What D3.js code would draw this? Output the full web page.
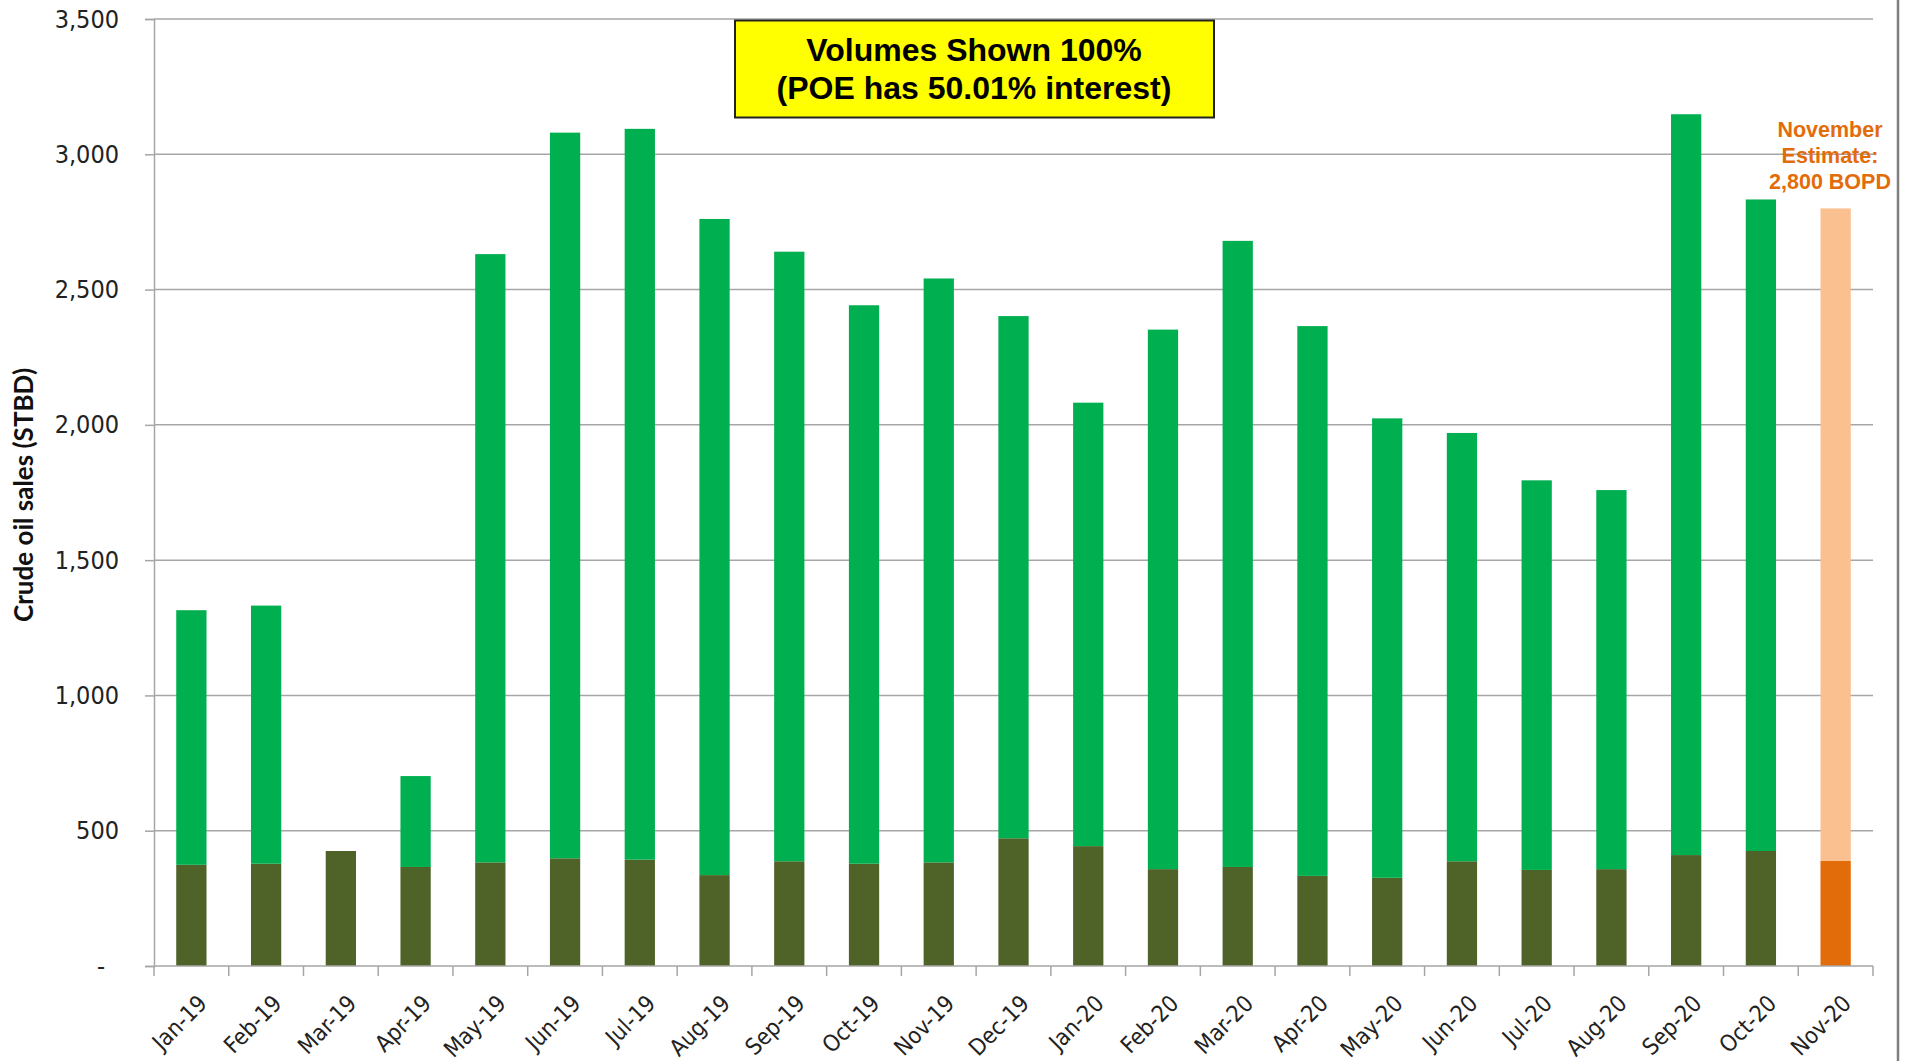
<!DOCTYPE html>
<html>
<head>
	<meta charset="utf-8">
	<script src="https://d3js.org/d3.v7.min.js"></script>
	<style>
		body { margin: 0; background: #fff; }
	</style>
</head>
<body>
	<script type="text/javascript">

		// monthly crude oil sales, STBD (100% volumes)
		var months = ["Jan-19","Feb-19","Mar-19","Apr-19","May-19","Jun-19","Jul-19","Aug-19","Sep-19","Oct-19","Nov-19","Dec-19",
			"Jan-20","Feb-20","Mar-20","Apr-20","May-20","Jun-20","Jul-20","Aug-20","Sep-20","Oct-20","Nov-20"];
		var lowerSales = [374, 378, 425, 366, 383, 398, 393, 336, 387, 378, 383, 472,
			443, 358, 366, 333, 326, 387, 355, 358, 410, 425, 388];
		var upperSales = [941, 954, 0, 336, 2248, 2682, 2701, 2425, 2253, 2064, 2158, 1930,
			1639, 1994, 2314, 2032, 1698, 1583, 1440, 1401, 2738, 2408, 2412];
		var yTicks = [0, 500, 1000, 1500, 2000, 2500, 3000, 3500];
		var estimateMonth = "Nov-20";

		var w = 1907;
		var h = 1061;
		var plotLeft = 154, plotRight = 1873, plotTop = 19, plotBottom = 966;
		var tickFont = "'DejaVu Sans Condensed', 'DejaVu Sans'";

		var svg = d3.select("body")
				.append("svg")
				.attr("width", w)
				.attr("height", h);

		var xScale = d3.scaleBand()
				.domain(months)
				.range([plotLeft, plotRight])
				.padding(0);

		var yScale = d3.scaleLinear()
				.domain([0, 3500])
				.range([plotBottom, plotTop]);

		var barW = xScale.bandwidth() * 0.405;

		// gridlines
		svg.append("g")
			.selectAll("line")
			.data(yTicks.slice(1))
			.enter()
			.append("line")
			.attr("x1", plotLeft)
			.attr("x2", plotRight)
			.attr("y1", function(d){ return yScale(d); })
			.attr("y2", function(d){ return yScale(d); })
			.attr("stroke", "#a6a6a6")
			.attr("stroke-width", 1.5);

		// y axis
		var yAxis = d3.axisLeft(yScale)
				.tickValues(yTicks)
				.tickSize(9)
				.tickPadding(26)
				.tickFormat(function(d){ return d === 0 ? "-" : d3.format(",")(d); });

		var gy = svg.append("g")
			.attr("transform", "translate(" + plotLeft + ",0)")
			.call(yAxis);
		gy.select(".domain").attr("stroke", "#a6a6a6").attr("stroke-width", 1.5);
		gy.selectAll(".tick line").attr("stroke", "#a6a6a6").attr("stroke-width", 1.5);
		gy.selectAll(".tick text")
			.attr("font-family", tickFont)
			.attr("font-size", 25)
			.attr("fill", "#222")
			.attr("dx", function(d){ return d === 0 ? -14 : 0; });

		// bars
		function lowColor(m){ return m === estimateMonth ? "#e36c0a" : "#4f6228"; }
		function upColor(m){ return m === estimateMonth ? "#fac090" : "#00b050"; }

		svg.append("g")
			.selectAll("rect")
			.data(months)
			.enter()
			.append("rect")
			.attr("x", function(d){ return xScale(d) + (xScale.bandwidth() - barW) / 2; })
			.attr("y", function(d, i){ return yScale(lowerSales[i]); })
			.attr("width", barW)
			.attr("height", function(d, i){ return plotBottom - yScale(lowerSales[i]); })
			.attr("fill", lowColor);

		svg.append("g")
			.selectAll("rect")
			.data(months)
			.enter()
			.append("rect")
			.attr("x", function(d){ return xScale(d) + (xScale.bandwidth() - barW) / 2; })
			.attr("y", function(d, i){ return yScale(lowerSales[i] + upperSales[i]); })
			.attr("width", barW)
			.attr("height", function(d, i){ return yScale(lowerSales[i]) - yScale(lowerSales[i] + upperSales[i]); })
			.attr("fill", upColor);

		// x axis
		var gx = svg.append("g")
			.attr("transform", "translate(0," + plotBottom + ")");
		gx.append("line")
			.attr("x1", plotLeft).attr("x2", plotRight)
			.attr("stroke", "#a6a6a6").attr("stroke-width", 1.5);
		gx.selectAll(".tk")
			.data(months.concat(["end"]))
			.enter()
			.append("line")
			.attr("x1", function(d, i){ return plotLeft + i * xScale.bandwidth(); })
			.attr("x2", function(d, i){ return plotLeft + i * xScale.bandwidth(); })
			.attr("y1", 0).attr("y2", 10)
			.attr("stroke", "#a6a6a6").attr("stroke-width", 1.5);
		gx.selectAll("text")
			.data(months)
			.enter()
			.append("text")
			.attr("transform", function(d){
				return "translate(" + (xScale(d) + xScale.bandwidth() / 2 + 17) + ",39) rotate(-45)";
			})
			.attr("text-anchor", "end")
			.attr("font-family", tickFont)
			.attr("font-size", 23)
			.attr("fill", "#222")
			.text(function(d){ return d; });

		// axis title
		svg.append("text")
			.attr("transform", "translate(33,495) rotate(-90)")
			.attr("text-anchor", "middle")
			.attr("font-family", "Lato")
			.attr("font-weight", "bold")
			.attr("font-size", 26)
			.attr("fill", "#111")
			.text("Crude oil sales (STBD)");

		// yellow note box
		svg.append("rect")
			.attr("x", 735).attr("y", 20.5)
			.attr("width", 479).attr("height", 97)
			.attr("fill", "#ffff00")
			.attr("stroke", "#222")
			.attr("stroke-width", 2);
		svg.append("text")
			.attr("x", 974).attr("y", 61)
			.attr("text-anchor", "middle")
			.attr("font-family", "Liberation Sans")
			.attr("font-weight", "bold")
			.attr("font-size", 32)
			.text("Volumes Shown 100%");
		svg.append("text")
			.attr("x", 974).attr("y", 99)
			.attr("text-anchor", "middle")
			.attr("font-family", "Liberation Sans")
			.attr("font-weight", "bold")
			.attr("font-size", 32)
			.text("(POE has 50.01% interest)");

		// estimate note
		var note = ["November", "Estimate:", "2,800 BOPD"];
		svg.append("g")
			.selectAll("text")
			.data(note)
			.enter()
			.append("text")
			.attr("x", 1830)
			.attr("y", function(d, i){ return 137 + i * 26; })
			.attr("text-anchor", "middle")
			.attr("font-family", "Liberation Sans")
			.attr("font-weight", "bold")
			.attr("font-size", 21.5)
			.attr("fill", "#e36c0a")
			.text(function(d){ return d; });

		// right border
		svg.append("line")
			.attr("x1", 1898).attr("x2", 1898)
			.attr("y1", 0).attr("y2", h)
			.attr("stroke", "#7f7f7f")
			.attr("stroke-width", 2.5);

	</script>
</body>
</html>
